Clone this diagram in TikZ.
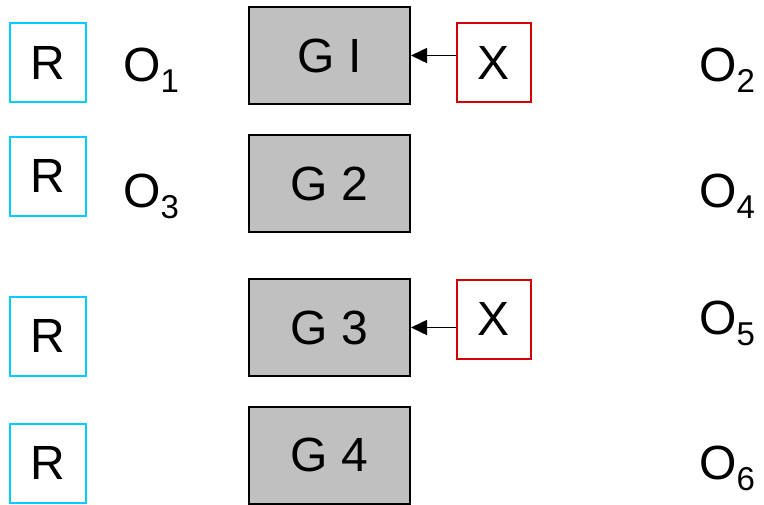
\documentclass[tikz,border=0pt]{standalone}
\usepackage{fontspec}
\setmainfont{Liberation Sans}
\usetikzlibrary{arrows.meta, positioning}

\definecolor{rcyan}{RGB}{0,204,255}
\definecolor{xred}{RGB}{210,0,0}
\definecolor{ggray}{RGB}{192,192,192}

% output label with a lowered index
\newcommand{\osub}[2]{#1\raisebox{-11pt}{\fontsize{33}{33}\selectfont #2}}

\begin{document}
\begin{tikzpicture}[
  x=1pt, y=-1pt,
  every node/.style={font=\fontsize{48}{48}\selectfont, inner sep=0pt},
  rbox/.style={draw=rcyan, line width=2pt, minimum width=76pt, minimum height=79pt},
  gbox/.style={draw=black, fill=ggray, line width=2pt, minimum width=161pt, minimum height=97pt},
  xbox/.style={draw=xred, line width=2pt, minimum width=74pt, minimum height=79pt},
  olab/.style={anchor=base west},
  conn/.style={-{Triangle[length=16pt, width=15pt]}, line width=1.5pt}
]
\useasboundingbox (0,0) rectangle (764,504);

% Left column
\node[rbox] (r1) at (47.5,62.5) {R};
\node[rbox] (r2) at (47.5,176)  {R};
\node[rbox] (r3) at (47.5,336)  {R};
\node[rbox] (r4) at (47.5,463)  {R};

% Middle column
\node[gbox] (g1) at (329.5,55.5)  {G I};
\node[gbox] (g2) at (329.5,183.5) {G 2};
\node[gbox] (g3) at (329.5,327.5) {G 3};
\node[gbox] (g4) at (329.5,455)   {G 4};

\node[xbox] (x1) at (494,62.5) {X};
\node[xbox] (x3) at (494,319)  {X};

% Outputs
\node[olab] (o1) at (123,81)  {\osub{O}{1}};
\node[olab] (o3) at (123,207) {\osub{O}{3}};
\node[olab] (o2) at (699,81)  {\osub{O}{2}};
\node[olab] (o4) at (699,207) {\osub{O}{4}};
\node[olab] (o5) at (699,334) {\osub{O}{5}};
\node[olab] (o6) at (699,479) {\osub{O}{6}};

% Connectors
\draw[conn] (x1.west |- g1.east) -- (g1.east);
\draw[conn] (x3.west |- g3.east) -- (g3.east);

\end{tikzpicture}
\end{document}
